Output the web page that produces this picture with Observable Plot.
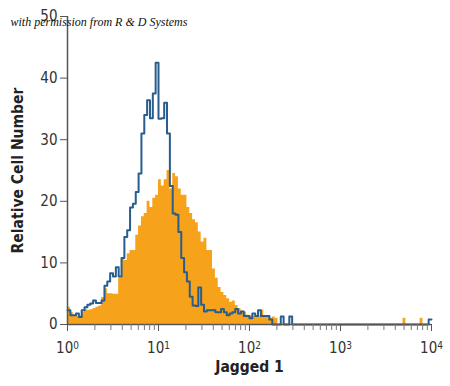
<!DOCTYPE html>
<html><head><meta charset="utf-8">
<script src="https://cdn.jsdelivr.net/npm/d3@7"></script>
<script src="https://cdn.jsdelivr.net/npm/@observablehq/plot@0.6"></script>
<style>
body{margin:0;background:#fff;}
#chart{width:450px;height:386px;}
#chart svg text{font-stretch:condensed;}
</style>
</head><body><div id="chart"></div>
<script>
// histogram channels: 32 bins per decade, starting at 10^0
const binsPerDecade = 32;
// isotype / control (blue outline)
const blueCounts = [
  2.3, 1.5, 1.5, 1.8, 1.2, 2.3, 2.8, 3.2, 3.4, 3.9,
  3.5, 3.5, 3.9, 6.3, 7.0, 8.3, 7.8, 9.3, 7.8, 10.8,
  14.2, 15.3, 19.0, 19.6, 21.5, 24.5, 31.0, 34.0, 36.4, 33.5,
  37.5, 42.5, 33.4, 33.5, 36.0, 31.0, 22.5, 18.0, 17.8, 15.0,
  10.8, 8.5, 7.0, 4.5, 3.1, 3.0, 6.0, 3.2, 2.1, 2.3,
  2.3, 2.3, 2.0, 2.0, 2.5, 2.0, 1.5, 1.8, 2.0, 2.5,
  1.8, 2.1, 1.4, 1.4, 1.0, 1.8, 1.4, 2.3, 1.4, 1.4,
  1.4, 0.8, 0, 0, 0, 1.3, 0, 0, 1.3, 0
];
const blueTail = [[127, 0.8]]; // [bin index, count]
// Jagged 1 stained cells (orange fill)
const orangeCounts = [
  2.8, 2.0, 1.5, 1.3, 1.4, 2.0, 2.4, 2.3, 2.4, 2.6,
  2.8, 3.0, 4.4, 5.8, 5.0, 5.0, 4.9, 4.9, 7.5, 10.7,
  10.4, 11.5, 12.0, 12.0, 14.5, 16.0, 17.5, 18.0, 20.0, 19.0,
  20.5, 21.0, 23.5, 22.5, 23.5, 25.0, 22.0, 24.5, 24.0, 22.0,
  21.0, 21.0, 19.0, 18.0, 17.0, 16.5, 15.0, 13.4, 14.0, 12.0,
  12.0, 9.0, 7.5, 6.0, 5.2, 4.7, 4.2, 3.6, 3.8, 3.1,
  2.6, 2.2, 2.0, 1.5, 1.4, 1.3, 1.3, 1.4, 2.3, 1.2,
  1.2, 1.0, 1.2, 1.0
];
const orangeTail = [[118, 1.0], [124, 1.0]];
const yTicks = [0, 10, 20, 30, 40, 50];
const xDecades = [1, 10, 100, 1000, 10000];
const xLabel = "Jagged 1";
const yLabel = "Relative Cell Number";
const note = "with permission from R & D Systems";

const edge = i => 10 ** (i / binsPerDecade);

// orange area data (step histogram)
const orangeData = orangeCounts.map((c, i) => ({x: edge(i), y: c, s: "main"}));
orangeData.push({x: edge(orangeCounts.length), y: 0, s: "main"});
orangeTail.forEach(([b, c], k) => {
  orangeData.push({x: edge(b), y: c, s: "t" + k});
  orangeData.push({x: edge(b + 1), y: 0, s: "t" + k});
});

// blue line data
const blueData = blueCounts.map((c, i) => ({x: edge(i), y: c}));
blueData.push({x: edge(blueCounts.length), y: 0});
blueTail.forEach(([b, c]) => {
  blueData.push({x: edge(b), y: c});
  blueData.push({x: edge(b + 1), y: c});
});

const minorTicks = [];
for (let d = 0; d < 4; d++) for (let m = 1; m < 10; m++) minorTicks.push(m * 10 ** d);
minorTicks.push(10000);

const font = '"DejaVu Sans", sans-serif';

const chart = Plot.plot({
  width: 450,
  height: 386,
  marginLeft: 67,
  marginRight: 19,
  marginTop: 16,
  marginBottom: 62,
  style: {fontFamily: font, background: "#fff", color: "#333", overflow: "visible"},
  x: {type: "log", domain: [1, 10000], axis: null},
  y: {domain: [0, 50], axis: null},
  marks: [
    Plot.areaY(orangeData, {x: "x", y: "y", z: "s", curve: "step-after", fill: "#f7a21b"}),
    Plot.lineY(blueData, {x: "x", y: "y", curve: "step-after", stroke: "#285d8e", strokeWidth: 2}),
    Plot.ruleX([1], {y1: 0, y2: 50, stroke: "#555", strokeWidth: 1.5}),
    Plot.ruleY([0], {stroke: "#555", strokeWidth: 1.5}),
    Plot.axisY({ticks: yTicks, label: null, tickSize: 7, tickPadding: 3, fontSize: 15, stroke: "#555", fill: "#333", tickFormat: d => String(d)}),
    Plot.axisX({ticks: minorTicks, label: null, tickSize: 6, tickFormat: () => "", stroke: "#777"}),
    Plot.axisX({ticks: xDecades, label: null, tickSize: 7, tickPadding: 11, fontSize: 15, stroke: "#555", fill: "#333",
      tickFormat: d => String(Math.round(Math.log10(d)))}),
    Plot.text([xLabel], {frameAnchor: "bottom", dy: 47, fontSize: 15.5, fontWeight: "bold", fill: "#222"}),
    Plot.text([yLabel], {frameAnchor: "left", textAnchor: "middle", dx: -49, rotate: -90, fontSize: 15.5, fontWeight: "bold", fill: "#222"}),
    Plot.text([note], {frameAnchor: "top-left", dx: -57, dy: 1, textAnchor: "start", fontSize: 12,
      fontStyle: "italic", fontFamily: '"Liberation Serif", "DejaVu Serif", serif', fill: "#111"})
  ]
});

document.getElementById("chart").appendChild(chart);

// superscript exponent on x tick labels: 10^k
d3.select(chart).selectAll('g[aria-label="x-axis tick label"] text').each(function() {
  const t = d3.select(this);
  const k = t.text();
  if (k === "") return;
  t.text("");
  t.append("tspan").text("10");
  t.append("tspan").attr("dy", "-0.45em").attr("font-size", "10px").text(k);
});
</script>
</body></html>
